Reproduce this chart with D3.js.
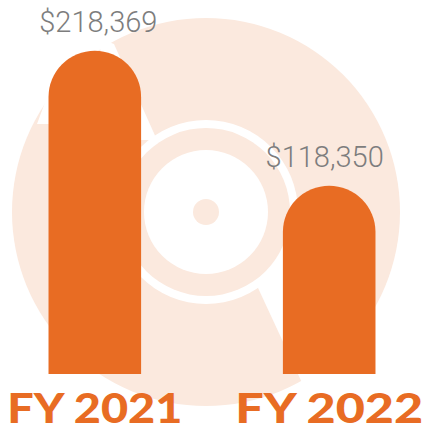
<!DOCTYPE html>
<html>
<head>
<meta charset="utf-8">
<script src="https://d3js.org/d3.v7.min.js"></script>
<style>
  html, body { margin: 0; padding: 0; background: #fff; }
</style>
</head>
<body>
<svg width="430" height="432"></svg>
<script>
// data
const years = ["FY 2021", "FY 2022"];
const amounts = [218369, 118350];
const amountLabels = ["$218,369", "$118,350"];

const orange = "#E86C23";
const peach = "#FBE9DE";

const svg = d3.select("svg");

const x = d3.scaleBand()
  .domain(years)
  .range([0, 424])
  .paddingInner(0.605)
  .paddingOuter(0.207);

// baseline sits a bit below zero so the short bar keeps its rounded head
const y = d3.scaleLinear()
  .domain([-21190, 218369])
  .range([374, 50.7]);

// background record logo
const bg = svg.append("g");
const cx = 206, cy = 212;
bg.append("circle").attr("cx", cx).attr("cy", cy).attr("r", 194).attr("fill", peach);

// tonearm cut-outs
const cuts = [
  [[98, 38], [114, 44], [157, 140], [118, 140]],
  [[47, 97], [50, 97], [50, 124], [37, 124]],
  [[246, 262], [300, 262], [360, 400], [310, 400]]
];
bg.selectAll("polygon").data(cuts).join("polygon")
  .attr("points", d => d.join(" "))
  .attr("fill", "#fff");

bg.append("circle").attr("cx", cx).attr("cy", cy).attr("r", 92).attr("fill", "#fff");
bg.append("circle").attr("cx", cx).attr("cy", cy).attr("r", 84).attr("fill", peach);
bg.append("circle").attr("cx", cx).attr("cy", cy).attr("r", 62).attr("fill", "#fff");
bg.append("circle").attr("cx", cx).attr("cy", cy).attr("r", 13).attr("fill", peach);

// bars with a round head
function barPath(d, i) {
  const x0 = x(years[i]), w = x.bandwidth(), r = w / 2;
  const top = y(d), bottom = y.range()[0];
  return `M${x0},${bottom} V${top + r} A${r},${r} 0 0 1 ${x0 + w},${top + r} V${bottom} Z`;
}

svg.append("g").selectAll("path").data(amounts).join("path")
  .attr("d", barPath)
  .attr("fill", orange);

const valueShift = [3.5, -4.5];
svg.append("g").selectAll("text").data(amounts).join("text")
  .attr("x", (d, i) => x(years[i]) + x.bandwidth() / 2 + valueShift[i])
  .attr("y", d => y(d) - 19)
  .attr("text-anchor", "middle")
  .attr("font-family", "Roboto")
  .attr("font-weight", 300)
  .attr("font-size", 29)
  .attr("fill", "#7d7d7d")
  .text((d, i) => amountLabels[i]);

// category labels
const labelWidths = [175, 188];
svg.append("g").selectAll("text").data(years).join("text")
  .attr("x", d => x(d) + x.bandwidth() / 2)
  .attr("y", 423)
  .attr("text-anchor", "middle")
  .attr("font-family", "Lato, 'Open Sans', sans-serif")
  .attr("font-weight", 900)
  .attr("font-size", 41)
  .attr("fill", orange)
  .attr("textLength", (d, i) => labelWidths[i])
  .attr("lengthAdjust", "spacingAndGlyphs")
  .text(d => d);
</script>
</body>
</html>
